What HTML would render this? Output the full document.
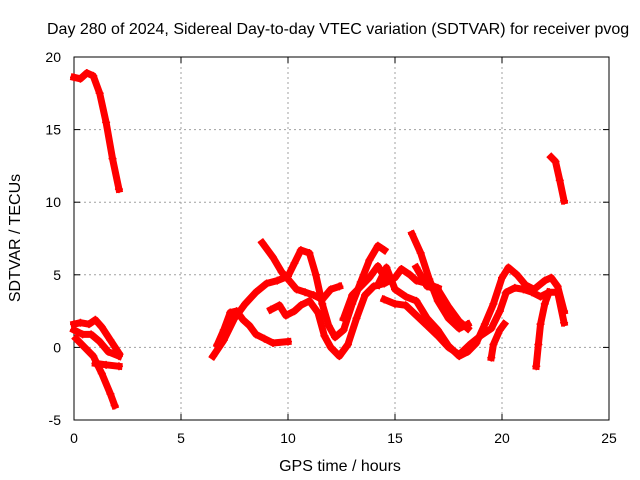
<!DOCTYPE html>
<html><head><meta charset="utf-8"><style>
body{margin:0;background:#fff}
svg{display:block;font-family:"Liberation Sans",sans-serif}
</style></head><body>
<svg id="c" width="640" height="480"></svg>
<script>
const xTicks=[0,5,10,15,20,25];
const yTicks=[-5,0,5,10,15,20];
const s1=[[0,18.6],[0.3,18.5],[0.6,18.9],[0.9,18.7],[1.2,17.5],[1.5,15.5],[1.8,13],[2.1,10.9]];
const s2=[[0,1.6],[0.3,1.7],[0.7,1.6],[1.0,1.9],[1.3,1.4],[1.7,0.5],[2.1,-0.4]];
const s3=[[0,1.2],[0.4,0.9],[0.8,0.9],[1.2,0.4],[1.6,-0.3],[2.1,-0.6]];
const s3b=[[1.0,-1.1],[1.5,-1.2],[2.1,-1.3]];
const s4=[[0.1,0.6],[0.5,0],[0.9,-0.6],[1.3,-1.8],[1.7,-3.2],[1.9,-4.0]];
const s5=[[22.3,13.1],[22.5,12.8],[22.7,11.5],[22.9,10.1]];
const c1=[[6.5,-0.6],[7.0,0.5],[7.5,2.0],[8.0,3.0],[8.5,3.8],[9,4.4],[9.5,4.6],[10,4.9],[10.3,5.8],[10.6,6.7],[11.0,6.5],[11.3,5],[11.6,3],[11.9,1.5],[12.2,0.7],[12.6,1.2],[13.0,3],[13.4,4.5],[13.8,6.0],[14.2,7.0],[14.5,6.7]];
const c2=[[8.8,7.2],[9.3,6.2],[9.7,5.2],[10.0,4.7],[10.4,4.0],[10.8,3.8],[11.2,3.6],[11.6,3.3],[12,4.0],[12.4,4.2]];
const c3=[[9.2,2.6],[9.6,2.9],[9.9,2.2],[10.3,2.5],[10.6,2.9],[11,3.2],[11.4,2.4],[11.7,0.8],[12.0,0],[12.4,-0.6],[12.8,0.2],[13.2,2],[13.6,3.6],[14,4.2],[14.5,4.4],[15,4.8],[15.3,5.4],[15.7,5.0],[16,4.6],[16.5,4.4],[17,4.1]];
const c4=[[6.7,0.2],[7.0,1.2],[7.3,2.4],[7.6,2.5],[7.9,1.9],[8.2,1.5],[8.5,0.9],[8.9,0.6],[9.3,0.3],[10,0.4]];
const c5=[[12.6,2.0],[13.0,3.6],[13.4,4.2],[13.8,4.8],[14.2,5.6],[14.6,4.6]];
const d1=[[15.8,7.8],[16.2,6.5],[16.6,4.7],[17,3.2],[17.5,2.0],[18,1.3],[18.4,1.6]];
const d2=[[14.2,4.3],[14.6,5.5],[15,4.0],[15.5,3.5],[16,3.2],[16.5,2.0],[17,1.2],[17.5,0.1],[18,-0.6],[18.4,-0.3],[18.8,0.3],[19.2,1.6],[19.6,3.0],[20,4.8],[20.3,5.5],[20.7,5.0],[21.1,4.3],[21.5,4.0],[22,4.6],[22.3,4.8],[22.6,4.2],[22.9,2.5]];
const d3=[[14.5,3.3],[15,3.0],[15.5,2.9],[16,2.2],[16.5,1.5],[17,0.8],[17.5,0],[18,-0.5],[18.5,0.2],[19,0.8],[19.5,1.3],[19.9,2.5],[20.2,3.8],[20.6,4.1],[21,4.0],[21.4,3.8],[21.8,3.5],[22.2,3.8],[22.6,3.8],[22.9,1.7]];
const d4=[[16,5.5],[16.5,4.2],[17,4.0],[17.5,2.8],[18,1.8],[18.4,1.3]];
const d5=[[19.5,-0.7],[19.6,0.2],[19.9,1.2],[20.1,1.6]];
const d6=[[21.6,-1.3],[21.7,0.2],[21.8,1.6],[22.0,3.0],[22.2,3.8]];
const series=[s1,s2,s3,s3b,s4,s5,c1,c2,c3,c4,c5,d1,d2,d3,d4,d5,d6];

const L=74,R=609,T=57,B=420;
const X=v=>L+(v-0)/(25-0)*(R-L);
const Y=v=>B-(v+5)/(25)*(B-T);
const svg=document.getElementById('c');
const NS='http://www.w3.org/2000/svg';
function mk(t,a,txt){const e=document.createElementNS(NS,t);for(const k in a)e.setAttribute(k,a[k]);if(txt!==undefined)e.textContent=txt;svg.appendChild(e);return e;}

xTicks.forEach(t=>{
  if(t>0&&t<25){const g=mk('line',{x1:X(t),x2:X(t),y1:T,y2:B,stroke:'#a0a0a0','stroke-dasharray':'2,3'});
  
  }
  mk('line',{x1:X(t),x2:X(t),y1:B,y2:B-6,stroke:'#000'});
  mk('line',{x1:X(t),x2:X(t),y1:T,y2:T+6,stroke:'#000'});
  const l=mk('text',{x:X(t),y:443,'text-anchor':'middle','font-size':14},String(t));
  
  
});
yTicks.forEach(t=>{
  if(t>-5&&t<20){const g=mk('line',{x1:L,x2:R,y1:Y(t),y2:Y(t),stroke:'#a0a0a0','stroke-dasharray':'2,3'});
  
  }
  mk('line',{x1:L,x2:L+6,y1:Y(t),y2:Y(t),stroke:'#000'});
  mk('line',{x1:R,x2:R-6,y1:Y(t),y2:Y(t),stroke:'#000'});
  const l=mk('text',{x:61,y:Y(t)+5,'text-anchor':'end','font-size':14},String(t));
  
  
});
const bd=mk('rect',{x:L,y:T,width:R-L,height:B-T,fill:'none',stroke:'#000'});



series.forEach(s=>{
  const p=mk('polyline',{points:s.map(d=>X(d[0])+','+Y(d[1])).join(' '),fill:'none',stroke:'#f00','stroke-width':7,'stroke-linejoin':'round','stroke-linecap':'square'});
  
  
  s.forEach(d=>{
    const m=mk('path',{d:`M${X(d[0])-4},${Y(d[1])}h8M${X(d[0])},${Y(d[1])-4}v8`,stroke:'#f00','stroke-width':1.5});
    
    
  });
});

const tt=mk('text',{x:47,y:34,'font-size':16},'Day 280 of 2024, Sidereal Day-to-day VTEC variation (SDTVAR) for receiver pvog');


const xt=mk('text',{x:340,y:471,'text-anchor':'middle','font-size':16},'GPS time / hours');


const yt=mk('text',{x:0,y:0,'text-anchor':'middle','font-size':16,transform:'translate(20,238) rotate(-90)'},'SDTVAR / TECUs');


</script>
</body></html>
